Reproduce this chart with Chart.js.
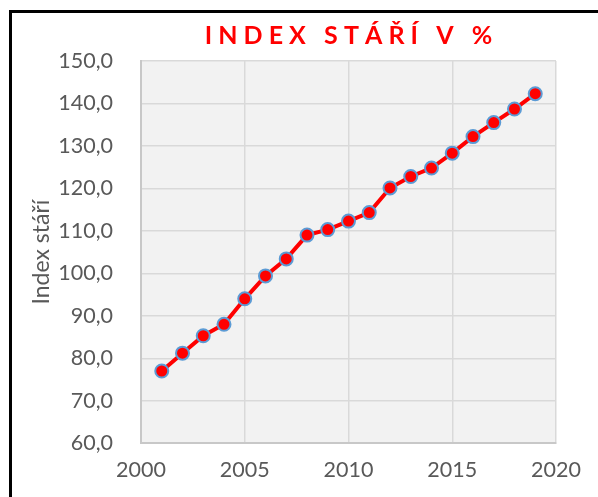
<!DOCTYPE html>
<html>
<head>
<meta charset="utf-8">
<script src="https://cdn.jsdelivr.net/npm/chart.js@4/dist/chart.umd.min.js"></script>
<style>
  html, body { margin: 0; padding: 0; background: #ffffff; }
  #wrap { position: relative; width: 598px; height: 497px; overflow: hidden; }
  #frame { position: absolute; left: 9px; top: 10px; width: 700px; height: 600px;
           border-left: 3px solid #000; border-top: 3px solid #000; box-sizing: border-box; }
  #c { position: absolute; left: 0; top: 0; }
</style>
</head>
<body>
<div id="wrap">
  <div id="frame"></div>
  <canvas id="c" width="598" height="497"></canvas>
</div>
<script>
const titleText = 'I N D E X   S T Á Ř Í   V   %';
const yAxisTitle = 'Index stáří';
const years = [2001, 2002, 2003, 2004, 2005, 2006, 2007, 2008, 2009, 2010,
               2011, 2012, 2013, 2014, 2015, 2016, 2017, 2018, 2019];
const indexValues = [77.0, 81.2, 85.3, 88.0, 94.0, 99.4, 103.4, 109.0, 110.3, 112.3,
                     114.3, 120.1, 122.8, 124.8, 128.3, 132.2, 135.5, 138.7, 142.3];

const points = years.map((y, i) => ({ x: y, y: indexValues[i] }));

const plotBg = {
  id: 'plotBg',
  beforeDraw(chart) {
    const { ctx, chartArea: a } = chart;
    ctx.save();
    ctx.fillStyle = '#f2f2f2';
    ctx.fillRect(a.left, a.top, a.right - a.left, a.bottom - a.top);
    ctx.restore();
  }
};

const tickColor = '#595959';
const tickFont = { family: 'Lato', size: 21.5 };

new Chart(document.getElementById('c'), {
  type: 'line',
  data: {
    datasets: [{
      data: points,
      borderColor: '#ff0000',
      borderWidth: 4,
      backgroundColor: '#ff0000',
      pointBackgroundColor: '#ff0000',
      pointBorderColor: '#5b9bd5',
      pointBorderWidth: 2,
      pointRadius: 6.5,
      tension: 0,
      clip: false
    }]
  },
  options: {
    responsive: false,
    animation: false,
    events: [],
    layout: { padding: { left: 20, right: 42, top: 21, bottom: 0 } },
    plugins: {
      legend: { display: false },
      tooltip: { enabled: false },
      title: {
        display: true,
        fullSize: false,
        text: titleText,
        color: '#ff0000',
        font: { family: 'Lato', size: 25, weight: 'bold' },
        padding: { top: 0, bottom: 10 }
      }
    },
    scales: {
      x: {
        type: 'linear',
        min: 2000,
        max: 2020,
        ticks: {
          stepSize: 5,
          color: tickColor,
          font: tickFont,
          padding: 14,
          callback: v => String(v)
        },
        grid: { color: '#d9d9d9', lineWidth: 1.5, drawTicks: false },
        border: { color: '#c8c8c8', width: 2 }
      },
      y: {
        min: 60,
        max: 150,
        ticks: {
          stepSize: 10,
          color: tickColor,
          font: tickFont,
          padding: 28,
          callback: v => v.toFixed(1).replace('.', ',')
        },
        title: {
          display: true,
          text: yAxisTitle,
          color: tickColor,
          font: { family: 'Lato', size: 23 },
          padding: { top: 8, bottom: 0 }
        },
        grid: { color: '#d9d9d9', lineWidth: 1.5, drawTicks: false },
        border: { color: '#c8c8c8', width: 2 },
        afterFit(scale) { scale.width = 121; }
      }
    }
  },
  plugins: [plotBg]
});
</script>
</body>
</html>
